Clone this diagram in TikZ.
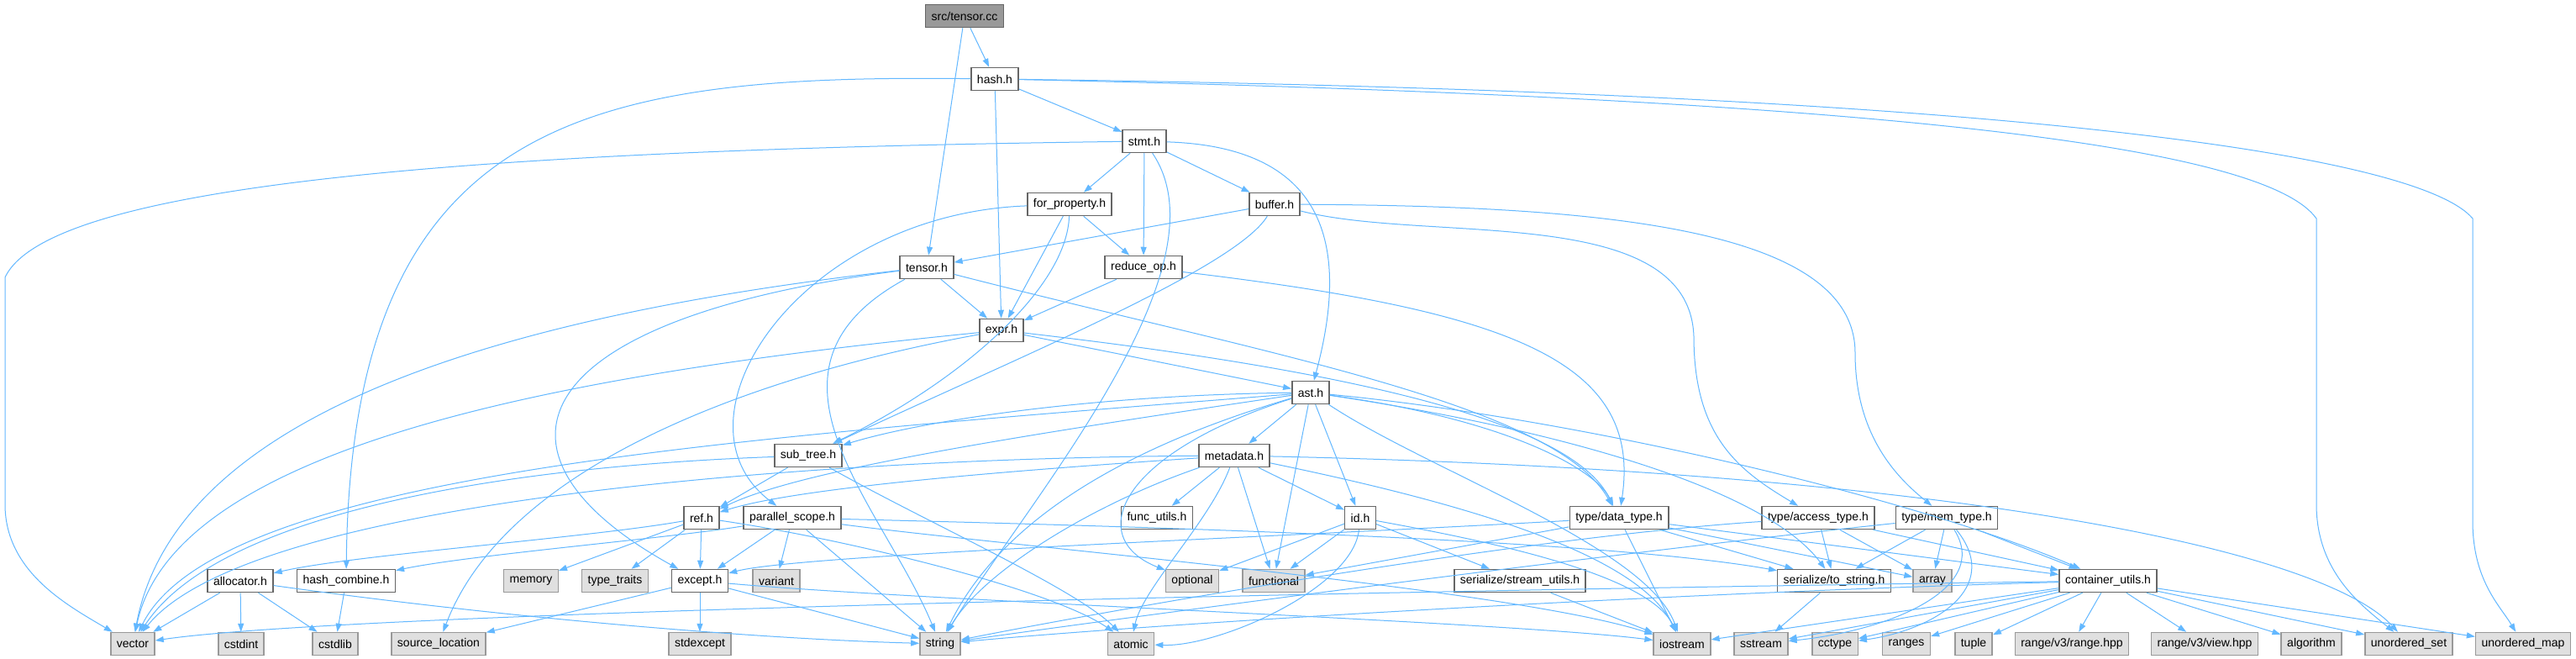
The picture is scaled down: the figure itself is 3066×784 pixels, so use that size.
\documentclass[tikz,border=0pt]{standalone}
\usepackage{fontspec}
\setmainfont{Liberation Sans}
\usepackage{xcolor}
\usepackage{tikz}
\usetikzlibrary{arrows.meta}

\definecolor{incblue}{HTML}{63B8FF}
\definecolor{boxgray}{HTML}{666666}
\definecolor{sysgray}{HTML}{999999}
\definecolor{sysfill}{HTML}{E0E0E0}
\definecolor{rootfill}{HTML}{999999}

\begin{document}
\begin{tikzpicture}[x=1pt, y=-1pt,
  hdr/.style={draw=boxgray, fill=white, line width=1.5pt, minimum height=27pt,
    inner xsep=7pt, inner ysep=0pt, font=\fontsize{14}{16}\selectfont},
  sys/.style={hdr, draw=sysgray, fill=sysfill},
  root/.style={hdr, fill=rootfill},
  inc/.style={-{Triangle[length=10pt,width=7pt]}, draw=incblue, line width=1pt},
]
  \useasboundingbox (0,0) rectangle (3066,784);
  \fill[white] (0,0) rectangle (3066,784);

  \node[root] (main)       at (1148,19)  {src/tensor.cc};
  \node[hdr]  (hash)       at (1184,94)  {hash.h};
  \node[hdr]  (stmt)       at (1362,168) {stmt.h};
  \node[hdr]  (forProp)    at (1273,243) {for\_property.h};
  \node[hdr]  (buffer)     at (1517,243) {buffer.h};
  \node[hdr]  (tensor)     at (1103,318) {tensor.h};
  \node[hdr]  (reduceOp)   at (1361,318) {reduce\_op.h};
  \node[hdr]  (expr)       at (1192,393) {expr.h};
  \node[hdr]  (ast)        at (1560,467) {ast.h};
  \node[hdr]  (subTree)    at (962,542)  {sub\_tree.h};
  \node[hdr]  (metadata)   at (1469,542) {metadata.h};
  \node[hdr]  (ref)        at (835,616)  {ref.h};
  \node[hdr]  (parScope)   at (943,616)  {parallel\_scope.h};
  \node[hdr]  (funcUtils)  at (1377,616) {func\_utils.h};
  \node[hdr]  (id)         at (1619,616) {id.h};
  \node[hdr]  (dataType)   at (1927,616) {type/data\_type.h};
  \node[hdr]  (accType)    at (2164,616) {type/access\_type.h};
  \node[hdr]  (memType)    at (2317,616) {type/mem\_type.h};
  \node[hdr]  (allocator)  at (286,691)  {allocator.h};
  \node[hdr]  (hashComb)   at (412,691)  {hash\_combine.h};
  \node[sys]  (memory)     at (632,691)  {memory};
  \node[sys]  (typeTraits) at (732,691)  {type\_traits};
  \node[hdr]  (except)     at (833,691)  {except.h};
  \node[sys]  (variant)    at (924,691)  {variant};
  \node[sys]  (optional)   at (1419,691) {optional};
  \node[sys]  (functional) at (1516,691) {functional};
  \node[hdr]  (streamUtils) at (1809,691) {serialize/stream\_utils.h};
  \node[hdr]  (toString)   at (2183,691) {serialize/to\_string.h};
  \node[sys]  (array)      at (2300,691) {array};
  \node[hdr]  (contUtils)  at (2509,691) {container\_utils.h};
  \node[sys]  (vector)     at (158,766)  {vector};
  \node[sys]  (cstdint)    at (287,766)  {cstdint};
  \node[sys]  (cstdlib)    at (399,766)  {cstdlib};
  \node[sys]  (srcLoc)     at (522,766)  {source\_location};
  \node[sys]  (stdexcept)  at (833,766)  {stdexcept};
  \node[sys]  (string)     at (1119,766) {string};
  \node[sys]  (atomic)     at (1346,766) {atomic};
  \node[sys]  (iostream)   at (2002,766) {iostream};
  \node[sys]  (sstream)    at (2096,766) {sstream};
  \node[sys]  (cctype)     at (2184,766) {cctype};
  \node[sys]  (ranges)     at (2269,766) {ranges};
  \node[sys]  (tuple)      at (2349,766) {tuple};
  \node[sys]  (rangeRange) at (2466,766) {range/v3/range.hpp};
  \node[sys]  (rangeView)  at (2624,766) {range/v3/view.hpp};
  \node[sys]  (algorithm)  at (2751,766) {algorithm};
  \node[sys]  (uset)       at (2867,766) {unordered\_set};
  \node[sys]  (umap)       at (3003,766) {unordered\_map};

  \draw[inc] (main) -- (hash);
  \draw[inc] (main) -- (tensor);

  \draw[inc] (hash) -- (stmt);
  \draw[inc] (hash) -- (expr);
  \draw[inc] (hash) .. controls (700,88) and (418,140) .. (hashComb);
  \draw[inc] (hash) .. controls (2300,118) and (2700,180) .. (2757,260) -- (2757,600)
    .. controls (2757,680) and (2810,720) .. (uset);
  \draw[inc] (hash) .. controls (2400,110) and (2880,185) .. (2943,260) -- (2943,620)
    .. controls (2943,690) and (2975,720) .. (umap);

  \draw[inc] (stmt) -- (forProp);
  \draw[inc] (stmt) -- (buffer);
  \draw[inc] (stmt) -- (reduceOp);
  \draw[inc] (stmt) .. controls (1585,175) and (1605,300) .. (ast);
  \draw[inc] (stmt) .. controls (1465,320) and (1220,600) .. (string);
  \draw[inc] (stmt) .. controls (600,178) and (60,215) .. (6,330) -- (6,600)
    .. controls (6,680) and (80,720) .. (vector);

  \draw[inc] (forProp) -- (expr);
  \draw[inc] (forProp) -- (reduceOp);
  \draw[inc] (forProp) .. controls (1270,340) and (1150,450) .. (subTree);
  \draw[inc] (forProp) .. controls (950,255) and (790,500) .. (parScope);

  \draw[inc] (buffer) -- (tensor);
  \draw[inc] (buffer) .. controls (1470,320) and (1200,430) .. (subTree);
  \draw[inc] (buffer) .. controls (1700,290) and (2010,240) .. (2016,400)
    .. controls (2016,520) and (2070,560) .. (accType);
  \draw[inc] (buffer) .. controls (1900,245) and (2208,270) .. (2208,420)
    .. controls (2208,520) and (2260,570) .. (memType);

  \draw[inc] (tensor) -- (expr);
  \draw[inc] (tensor) .. controls (600,375) and (210,490) .. (vector);
  \draw[inc] (tensor) .. controls (620,380) and (560,540) .. (except);
  \draw[inc] (tensor) .. controls (880,440) and (1050,600) .. (string);
  \draw[inc] (tensor) .. controls (1500,420) and (1850,480) .. (dataType);

  \draw[inc] (reduceOp) -- (expr);
  \draw[inc] (reduceOp) .. controls (1800,370) and (1955,430) .. (dataType);

  \draw[inc] (expr) -- (ast);
  \draw[inc] (expr) .. controls (1600,440) and (1870,500) .. (dataType);
  \draw[inc] (expr) .. controls (720,440) and (210,520) .. (vector);
  \draw[inc] (expr) .. controls (880,450) and (600,560) .. (srcLoc);

  \draw[inc] (ast) .. controls (1300,470) and (1100,500) .. (subTree);
  \draw[inc] (ast) -- (metadata);
  \draw[inc] (ast) .. controls (1200,520) and (950,560) .. (ref);
  \draw[inc] (ast) -- (id);
  \draw[inc] (ast) .. controls (1800,500) and (1900,560) .. (dataType);
  \draw[inc] (ast) -- (functional);
  \draw[inc] (ast) .. controls (1380,520) and (1200,600) .. (string);
  \draw[inc] (ast) .. controls (1330,540) and (1290,640) .. (optional);
  \draw[inc] (ast) .. controls (1700,560) and (1960,650) .. (iostream);
  \draw[inc] (ast) .. controls (1850,510) and (2100,580) .. (toString);
  \draw[inc] (ast) .. controls (1900,500) and (2300,600) .. (contUtils);
  \draw[inc] (ast) .. controls (900,520) and (260,560) .. (vector);

  \draw[inc] (metadata) -- (funcUtils);
  \draw[inc] (metadata) -- (id);
  \draw[inc] (metadata) -- (functional);
  \draw[inc] (metadata) .. controls (1440,620) and (1360,700) .. (atomic);
  \draw[inc] (metadata) .. controls (1300,600) and (1170,680) .. (string);
  \draw[inc] (metadata) .. controls (1200,560) and (950,580) .. (ref);
  \draw[inc] (metadata) .. controls (1000,545) and (300,590) .. (vector);
  \draw[inc] (metadata) .. controls (1750,600) and (1950,660) .. (iostream);
  \draw[inc] (metadata) .. controls (2300,560) and (2760,650) .. (uset);

  \draw[inc] (subTree) -- (ref);
  \draw[inc] (subTree) .. controls (1100,620) and (1280,700) .. (atomic);
  \draw[inc] (subTree) .. controls (600,555) and (260,610) .. (vector);

  \draw[inc] (ref) .. controls (700,640) and (420,660) .. (allocator);
  \draw[inc] (ref) -- (memory);
  \draw[inc] (ref) -- (typeTraits);
  \draw[inc] (ref) -- (except);
  \draw[inc] (ref) .. controls (1000,640) and (1250,700) .. (atomic);

  \draw[inc] (parScope) .. controls (800,640) and (560,660) .. (hashComb);
  \draw[inc] (parScope) -- (except);
  \draw[inc] (parScope) -- (variant);
  \draw[inc] (parScope) -- (string);
  \draw[inc] (parScope) .. controls (1300,625) and (1900,640) .. (toString);
  \draw[inc] (parScope) .. controls (1200,650) and (1800,700) .. (iostream);

  \draw[inc] (id) -- (optional);
  \draw[inc] (id) -- (functional);
  \draw[inc] (id) .. controls (1610,700) and (1450,770) .. (atomic);
  \draw[inc] (id) -- (streamUtils);
  \draw[inc] (id) .. controls (1750,640) and (1960,680) .. (iostream);

  \draw[inc] (dataType) .. controls (1500,640) and (950,660) .. (except);
  \draw[inc] (dataType) -- (functional);
  \draw[inc] (dataType) -- (toString);
  \draw[inc] (dataType) -- (array);
  \draw[inc] (dataType) -- (contUtils);
  \draw[inc] (dataType) -- (iostream);

  \draw[inc] (accType) -- (toString);
  \draw[inc] (accType) -- (array);
  \draw[inc] (accType) -- (contUtils);
  \draw[inc] (accType) .. controls (1800,640) and (1300,730) .. (string);

  \draw[inc] (memType) -- (toString);
  \draw[inc] (memType) -- (array);
  \draw[inc] (memType) -- (contUtils);
  \draw[inc] (memType) .. controls (2370,700) and (2250,750) .. (sstream);
  \draw[inc] (memType) .. controls (2385,700) and (2300,750) .. (cctype);
  \draw[inc] (memType) .. controls (1900,660) and (1300,740) .. (string);

  \draw[inc] (allocator) -- (vector);
  \draw[inc] (allocator) -- (cstdint);
  \draw[inc] (allocator) -- (cstdlib);
  \draw[inc] (allocator) .. controls (600,735) and (900,760) .. (string);

  \draw[inc] (hashComb) -- (cstdlib);

  \draw[inc] (except) -- (srcLoc);
  \draw[inc] (except) -- (stdexcept);
  \draw[inc] (except) -- (string);
  \draw[inc] (except) .. controls (1100,715) and (1800,740) .. (iostream);

  \draw[inc] (streamUtils) -- (iostream);
  \draw[inc] (toString) -- (sstream);

  \draw[inc] (contUtils) .. controls (1500,705) and (400,730) .. (vector);
  \draw[inc] (contUtils) .. controls (2000,705) and (1400,740) .. (string);
  \draw[inc] (contUtils) -- (iostream);
  \draw[inc] (contUtils) -- (sstream);
  \draw[inc] (contUtils) -- (cctype);
  \draw[inc] (contUtils) -- (ranges);
  \draw[inc] (contUtils) -- (tuple);
  \draw[inc] (contUtils) -- (rangeRange);
  \draw[inc] (contUtils) -- (rangeView);
  \draw[inc] (contUtils) -- (algorithm);
  \draw[inc] (contUtils) -- (uset);
  \draw[inc] (contUtils) -- (umap);
\end{tikzpicture}
\end{document}
